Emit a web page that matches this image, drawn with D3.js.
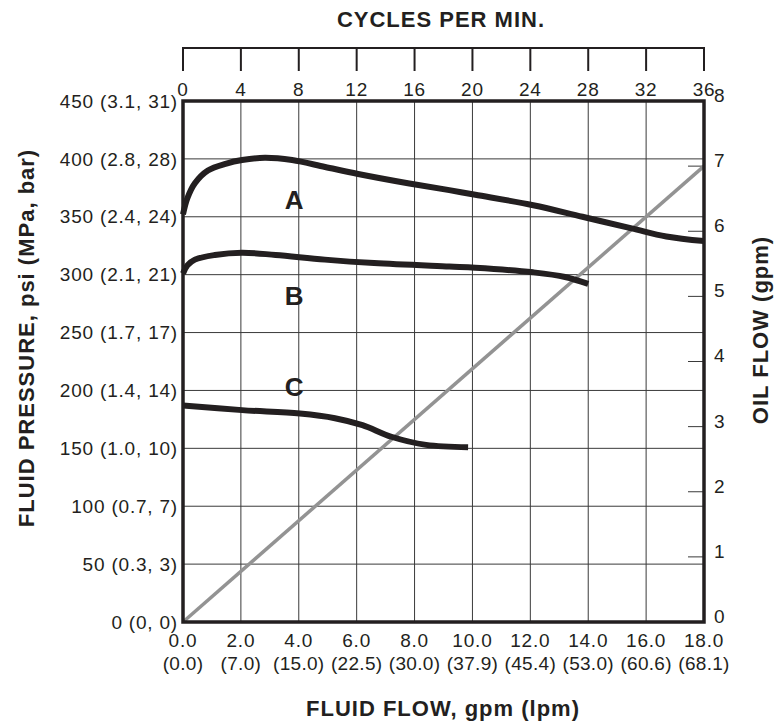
<!DOCTYPE html>
<html>
<head>
<meta charset="utf-8">
<script src="https://cdn.jsdelivr.net/npm/d3@7"></script>
<style>
  body { margin: 0; background: #fff; }
  svg { font-family: "Liberation Sans", Arial, Helvetica, sans-serif; }
  .tick-label { font-size: 19px; letter-spacing: 0.8px; }
  .title { font-size: 22px; font-weight: bold; letter-spacing: 1px; }
</style>
</head>
<body>
<div id="chart"></div>
<script>
// fluid flow, gpm (bottom axis)
var gpmTicks = [0, 2, 4, 6, 8, 10, 12, 14, 16, 18];
var lpmLabels = ['(0.0)', '(7.0)', '(15.0)', '(22.5)', '(30.0)', '(37.9)', '(45.4)', '(53.0)', '(60.6)', '(68.1)'];
// fluid pressure, psi (left axis)
var psiTicks = [0, 50, 100, 150, 200, 250, 300, 350, 400, 450];
var psiLabels = ['0 (0, 0)', '50 (0.3, 3)', '100 (0.7, 7)', '150 (1.0, 10)', '200 (1.4, 14)',
                 '250 (1.7, 17)', '300 (2.1, 21)', '350 (2.4, 24)', '400 (2.8, 28)', '450 (3.1, 31)'];
// cycles per min (top axis)
var cycleTicks = [0, 4, 8, 12, 16, 20, 24, 28, 32, 36];
// oil flow, gpm (right axis)
var oilTicks = [0, 1, 2, 3, 4, 5, 6, 7, 8];

// pressure curves: [gpm, psi]
var curveA = [[0, 352], [0.15, 366], [0.41, 379], [0.86, 390], [1.5, 396], [2.04, 399], [2.83, 401],
              [3.77, 399], [4.91, 393], [6.05, 387], [7.77, 379], [9.2, 373], [10.1, 369],
              [12.1, 360], [13.8, 350], [15.5, 340], [16.7, 333], [18, 329]];
var curveB = [[0, 301], [0.15, 308], [0.41, 313], [1.1, 317], [2.04, 319], [3.2, 317], [4.9, 313],
              [6.6, 310], [9.2, 307], [10.1, 306], [12.1, 302], [13.2, 298], [14.0, 292]];
var curveC = [[0, 187], [2.04, 183], [4.04, 180], [5.25, 176], [6.2, 170], [7.2, 160], [8.4, 153], [9.85, 151]];
// oil flow line: [gpm, oil gpm]
var oilLine = [[0, 0], [18, 7]];

var curveLabels = [
    { name: 'A', gpm: 3.84, psi: 357 },
    { name: 'B', gpm: 3.84, psi: 274 },
    { name: 'C', gpm: 3.84, psi: 195 }
];

var width = 774, height = 727;
var pL = 183, pR = 704, pT = 101, pB = 622;
var ink = '#231f20';

var svg = d3.select('#chart').append('svg')
    .attr('width', width)
    .attr('height', height);

var x = d3.scaleLinear().domain([0, 18]).range([pL, pR]);
var y = d3.scaleLinear().domain([0, 450]).range([pB, pT]);
var yOil = d3.scaleLinear().domain([0, 8]).range([pB, pT]);
var xCyc = d3.scaleLinear().domain([0, 36]).range([pL, pR]);

/* grid */
var grid = svg.append('g').attr('stroke', '#3a3a3a').attr('stroke-width', 1);
grid.selectAll('.vg').data(gpmTicks.slice(1, -1)).enter().append('line')
    .attr('x1', function(d) { return x(d); }).attr('x2', function(d) { return x(d); })
    .attr('y1', pT).attr('y2', pB);
grid.selectAll('.hg').data(psiTicks.slice(1, -1)).enter().append('line')
    .attr('x1', pL).attr('x2', pR)
    .attr('y1', function(d) { return y(d); }).attr('y2', function(d) { return y(d); });

/* right axis inner ticks */
grid.selectAll('.rt').data(oilTicks.slice(1, -1)).enter().append('line')
    .attr('x1', pR - 16).attr('x2', pR)
    .attr('y1', function(d) { return yOil(d); }).attr('y2', function(d) { return yOil(d); });

/* oil flow line */
var lineOil = d3.line()
    .x(function(d) { return x(d[0]); })
    .y(function(d) { return yOil(d[1]); });
svg.append('path')
    .datum(oilLine)
    .attr('d', lineOil)
    .attr('fill', 'none')
    .attr('stroke', '#939393')
    .attr('stroke-width', 3.5);

/* pressure curves */
var linePsi = d3.line()
    .curve(d3.curveCatmullRom)
    .x(function(d) { return x(d[0]); })
    .y(function(d) { return y(d[1]); });
svg.selectAll('.curve').data([curveA, curveB, curveC]).enter().append('path')
    .attr('d', linePsi)
    .attr('fill', 'none')
    .attr('stroke', ink)
    .attr('stroke-width', 6);

svg.selectAll('.clabel').data(curveLabels).enter().append('text')
    .attr('x', function(d) { return x(d.gpm); })
    .attr('y', function(d) { return y(d.psi); })
    .attr('text-anchor', 'middle')
    .style('font-size', '26px')
    .style('font-weight', 'bold')
    .attr('fill', ink)
    .text(function(d) { return d.name; });

/* frame */
svg.append('rect')
    .attr('x', pL).attr('y', pT)
    .attr('width', pR - pL).attr('height', pB - pT)
    .attr('fill', 'none')
    .attr('stroke', ink)
    .attr('stroke-width', 3.5);

/* top axis */
svg.append('line')
    .attr('x1', pL).attr('x2', pR)
    .attr('y1', 48).attr('y2', 48)
    .attr('stroke', ink).attr('stroke-width', 2);
svg.selectAll('.tt').data(cycleTicks).enter().append('line')
    .attr('x1', function(d) { return xCyc(d); }).attr('x2', function(d) { return xCyc(d); })
    .attr('y1', 47).attr('y2', 71)
    .attr('stroke', ink).attr('stroke-width', 2);
svg.selectAll('.tl').data(cycleTicks).enter().append('text')
    .attr('class', 'tick-label')
    .attr('x', function(d) { return xCyc(d); })
    .attr('y', 96)
    .attr('text-anchor', 'middle')
    .attr('fill', ink)
    .text(function(d) { return d; });

/* left labels */
svg.selectAll('.ll').data(psiTicks).enter().append('text')
    .attr('class', 'tick-label')
    .attr('x', pL - 5)
    .attr('y', function(d) { return y(d); })
    .attr('dy', '0.35em')
    .attr('text-anchor', 'end')
    .attr('fill', ink)
    .text(function(d, i) { return psiLabels[i]; });

/* right labels, sitting a little above their ticks */
svg.selectAll('.rl').data(oilTicks).enter().append('text')
    .attr('class', 'tick-label')
    .attr('x', pR + 10)
    .attr('y', function(d) { return yOil(d); })
    .attr('dy', '0.05em')
    .attr('fill', ink)
    .text(function(d) { return d; });

/* bottom labels */
svg.selectAll('.bl').data(gpmTicks).enter().append('text')
    .attr('class', 'tick-label')
    .attr('x', function(d) { return x(d); })
    .attr('y', 647)
    .attr('text-anchor', 'middle')
    .attr('fill', ink)
    .text(function(d) { return d.toFixed(1); });
svg.selectAll('.bl2').data(gpmTicks).enter().append('text')
    .attr('x', function(d) { return x(d); })
    .attr('y', 670)
    .attr('text-anchor', 'middle')
    .style('font-size', '19px')
    .style('letter-spacing', '0.3px')
    .style('font-family', '"Liberation Sans Narrow", "Arial Narrow", sans-serif')
    .attr('fill', ink)
    .text(function(d, i) { return lpmLabels[i]; });

/* titles */
svg.append('text')
    .attr('class', 'title')
    .attr('x', 441).attr('y', 27)
    .attr('text-anchor', 'middle')
    .attr('fill', ink)
    .text('CYCLES PER MIN.');
svg.append('text')
    .attr('class', 'title')
    .attr('x', 443).attr('y', 716)
    .attr('text-anchor', 'middle')
    .attr('fill', ink)
    .text('FLUID FLOW, gpm (lpm)');
svg.append('text')
    .attr('class', 'title')
    .attr('transform', 'translate(34,' + 338 + ') rotate(-90)')
    .attr('text-anchor', 'middle')
    .attr('fill', ink)
    .text('FLUID PRESSURE, psi (MPa, bar)');
svg.append('text')
    .attr('class', 'title')
    .attr('transform', 'translate(768,' + 330 + ') rotate(-90)')
    .attr('text-anchor', 'middle')
    .attr('fill', ink)
    .text('OIL FLOW (gpm)');
</script>
</body>
</html>
